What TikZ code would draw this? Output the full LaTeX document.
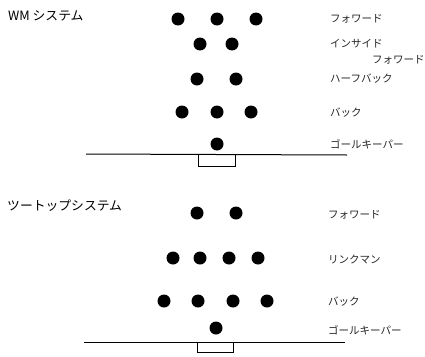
\documentclass[tikz,border=0pt]{standalone}
\usepackage{fontspec}
\newfontfamily\jp{Noto Sans CJK JP}
\tikzset{
  player/.style={circle,fill=black,inner sep=0pt,minimum size=13pt},
  lbl/.style={anchor=west,font=\jp\fontsize{10.5}{11}\selectfont,inner sep=0pt,text=black!85},
  ttl/.style={anchor=west,font=\jp\fontsize{12.8}{14}\selectfont,inner sep=0pt},
  field/.style={line width=1pt},
}
\begin{document}
\begin{tikzpicture}[x=1pt,y=-1pt]
\useasboundingbox (0,0) rectangle (425,356);
% ---- WM system ----
\node[ttl] (t1) at (8,16) {WM システム};
\node[player] (a1) at (178,19) {};
\node[player] (a2) at (217,19) {};
\node[player] (a3) at (256,19) {};
\node[player] (b1) at (200,44) {};
\node[player] (b2) at (232,44) {};
\node[player] (c1) at (197,79) {};
\node[player] (c2) at (236,79) {};
\node[player] (d1) at (182,112) {};
\node[player] (d2) at (217,112) {};
\node[player] (d3) at (251,112) {};
\node[player] (g1) at (217,144) {};
\node[lbl] (la) at (330,19) {フォワード};
\node[lbl] (lb) at (330,44) {インサイド};
\node[lbl] (lb2) at (372,60) {フォワード};
\node[lbl] (lc) at (330,79) {ハーフバック};
\node[lbl] (ld) at (330,113) {バック};
\node[lbl] (lg) at (330,144) {ゴールキーパー};
\coordinate (l1a) at (86,154);
\coordinate (l1b) at (347,155);
\coordinate (p1a) at (198,154.5);
\coordinate (p1b) at (198,166);
\coordinate (p1c) at (235,166);
\coordinate (p1d) at (235,154.5);
\draw[field] (l1a) -- (l1b);
\draw[line width=0.8pt] (p1a) -- (p1b) -- (p1c) -- (p1d);
% ---- two-top system ----
\node[ttl] (t2) at (7,206) {ツートップシステム};
\node[player] (e1) at (197,213) {};
\node[player] (e2) at (236,213) {};
\node[player] (f1) at (173,258) {};
\node[player] (f2) at (200,258) {};
\node[player] (f3) at (229,258) {};
\node[player] (f4) at (258,258) {};
\node[player] (h1) at (164,301) {};
\node[player] (h2) at (198,301) {};
\node[player] (h3) at (233,301) {};
\node[player] (h4) at (267,301) {};
\node[player] (g2) at (216,328) {};
\node[lbl] (le) at (328,215) {フォワード};
\node[lbl] (lf) at (328,259) {リンクマン};
\node[lbl] (lh) at (328,302) {バック};
\node[lbl] (lg2) at (328,330) {ゴールキーパー};
\coordinate (l2a) at (84,342);
\coordinate (l2b) at (345,342);
\coordinate (p2a) at (197,342);
\coordinate (p2b) at (197,352);
\coordinate (p2c) at (233,352);
\coordinate (p2d) at (233,342);
\draw[field] (l2a) -- (l2b);
\draw[line width=0.8pt] (p2a) -- (p2b) -- (p2c) -- (p2d);
\end{tikzpicture}
\end{document}
